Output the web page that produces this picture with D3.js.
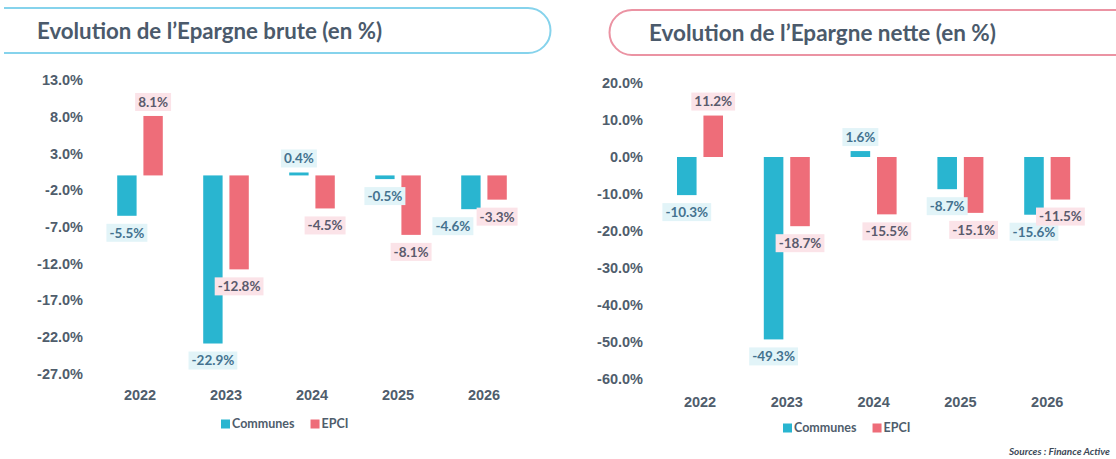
<!DOCTYPE html>
<html>
<head>
<meta charset="utf-8">
<script src="https://cdn.jsdelivr.net/npm/d3@7"></script>
<style>
  body { margin: 0; background: #fff; }
  svg { display: block; font-family: Lato, "Open Sans", sans-serif; }
  .tick text { font-weight: 700; fill: #4f5d6c; }
</style>
</head>
<body>
<svg id="chart" width="1116" height="459"></svg>
<script>
// Data
var years = ["2022", "2023", "2024", "2025", "2026"];
var series = ["Communes", "EPCI"];

var bruteCommunes = [-5.5, -22.9, 0.4, -0.5, -4.6];
var bruteEPCI = [8.1, -12.8, -4.5, -8.1, -3.3];
var bruteTicks = [13, 8, 3, -2, -7, -12, -17, -22, -27];

var netteCommunes = [-10.3, -49.3, 1.6, -8.7, -15.6];
var netteEPCI = [11.2, -18.7, -15.5, -15.1, -11.5];
var netteTicks = [20, 10, 0, -10, -20, -30, -40, -50, -60];

var barColor = { Communes: "#29b5d0", EPCI: "#ee6d79" };
var labelFill = { Communes: "#e2f4f8", EPCI: "#fbe3e8" };
var labelText = { Communes: "#44728f", EPCI: "#5a5a6c" };

// plain hyphen for negatives, like the original
var pct = d3.formatLocale({ decimal: ".", thousands: ",", grouping: [3], currency: ["", ""], minus: "-" })
	.format(".1f");
var fmt = function(d) { return pct(d) + "%"; };

var svg = d3.select("#chart");

function drawPanel(opt) {
	var g = svg.append("g");

	var rows = years.map(function(y, i) {
		return { year: y, Communes: opt.communes[i], EPCI: opt.epci[i] };
	});

	var x0 = d3.scaleBand()
		.domain(years)
		.range(opt.xRange)
		.paddingInner(0.47)
		.paddingOuter(0.235);

	var x1 = d3.scaleBand()
		.domain(series)
		.range([0, x0.bandwidth()])
		.paddingInner(0.26);

	var y = d3.scaleLinear()
		.domain([d3.min(opt.ticks), d3.max(opt.ticks)])
		.range(opt.yRange);

	// y axis labels, no line, no ticks
	var yAxis = g.append("g")
		.attr("transform", "translate(" + opt.yAxisX + ",0)")
		.call(d3.axisLeft(y).tickValues(opt.ticks).tickSize(0).tickPadding(0).tickFormat(fmt));
	yAxis.select(".domain").remove();
	yAxis.selectAll("text").style("font-size", "14.5px");

	// x axis years
	var xAxis = g.append("g")
		.attr("transform", "translate(0," + opt.yearY + ")")
		.call(d3.axisBottom(x0).tickSize(0).tickPadding(0));
	xAxis.select(".domain").remove();
	xAxis.selectAll("text").style("font-size", "14.5px").attr("dy", "0.35em");

	var groups = g.append("g").selectAll("g")
		.data(rows)
		.enter().append("g")
		.attr("transform", function(d) { return "translate(" + x0(d.year) + ",0)"; });

	var items = groups.selectAll(".bar")
		.data(function(d) {
			return series.map(function(s) { return { key: s, year: d.year, value: d[s] }; });
		})
		.enter();

	items.append("rect")
		.attr("class", "bar")
		.attr("x", function(d) { return x1(d.key); })
		.attr("width", x1.bandwidth())
		.attr("y", function(d) { return Math.min(y(0), y(d.value)); })
		.attr("height", function(d) { return Math.max(2, Math.abs(y(d.value) - y(0))); })
		.attr("fill", function(d) { return barColor[d.key]; });

	// value labels with tinted boxes
	var labels = groups.selectAll(".lab")
		.data(function(d) {
			return series.map(function(s) { return { key: s, year: d.year, value: d[s] }; });
		})
		.enter().append("g")
		.attr("class", "lab")
		.attr("transform", function(d) {
			var cx = x1(d.key) + x1.bandwidth() / 2 + (opt.nudge[d.year + d.key] || 0);
			var cy = d.value >= 0 ? y(d.value) - 14 : y(d.value) + 17;
			return "translate(" + cx + "," + cy + ")";
		});

	labels.append("text")
		.attr("text-anchor", "middle")
		.attr("dy", "0.36em")
		.style("font-size", "13.5px")
		.style("font-weight", 700)
		.attr("fill", function(d) { return labelText[d.key]; })
		.text(function(d) { return fmt(d.value); });

	labels.insert("rect", "text")
		.attr("fill", function(d) { return labelFill[d.key]; })
		.each(function() {
			var w = this.parentNode.querySelector("text").getComputedTextLength() + 6;
			d3.select(this).attr("x", -w / 2).attr("width", w).attr("y", -9).attr("height", 18);
		});

	// legend
	var leg = g.append("g").attr("transform", "translate(" + opt.legendX + "," + opt.legendY + ")");
	var lx = 0;
	series.forEach(function(s) {
		leg.append("rect").attr("x", lx).attr("y", -4.5).attr("width", 9).attr("height", 9)
			.attr("fill", barColor[s]);
		var t = leg.append("text").attr("x", lx + 11).attr("dy", "0.35em")
			.style("font-size", "12.5px").style("font-weight", 700)
			.attr("fill", "#4f5d6c").text(s);
		lx += 11 + t.node().getComputedTextLength() + 16;
	});
}

// title frames
svg.append("path")
	.attr("d", "M4,8 H528 A22.5,22.5 0 0 1 528,53 H4")
	.attr("fill", "none").attr("stroke", "#86d3ec").attr("stroke-width", 2);
svg.append("text").attr("x", 37).attr("y", 39)
	.style("font-size", "22px").style("font-weight", 700).attr("fill", "#4b5a6b")
	.attr("textLength", 345).attr("lengthAdjust", "spacingAndGlyphs")
	.text("Evolution de l\u2019Epargne brute (en %)");

svg.append("path")
	.attr("d", "M1116,10 H632 A22.5,22.5 0 0 0 632,55 H1116")
	.attr("fill", "none").attr("stroke", "#eb93a3").attr("stroke-width", 2);
svg.append("text").attr("x", 649).attr("y", 41)
	.style("font-size", "22px").style("font-weight", 700).attr("fill", "#4b5a6b")
	.attr("textLength", 347).attr("lengthAdjust", "spacingAndGlyphs")
	.text("Evolution de l\u2019Epargne nette (en %)");

drawPanel({
	communes: bruteCommunes, epci: bruteEPCI, ticks: bruteTicks,
	xRange: [97, 527], yRange: [373.6, 80], yAxisX: 83, yearY: 395,
	legendX: 221, legendY: 424, nudge: { "2026Communes": -18 }
});

drawPanel({
	communes: netteCommunes, epci: netteEPCI, ticks: netteTicks,
	xRange: [656.6, 1090.6], yRange: [379, 83], yAxisX: 643, yearY: 402,
	legendX: 783, legendY: 428, nudge: {}
});

svg.append("text").attr("x", 1110).attr("y", 455).attr("text-anchor", "end")
	.style("font-size", "10px").style("font-weight", 700).style("font-style", "italic")
	.attr("fill", "#3d4a58").text("Sources : Finance Active");
</script>
</body>
</html>
